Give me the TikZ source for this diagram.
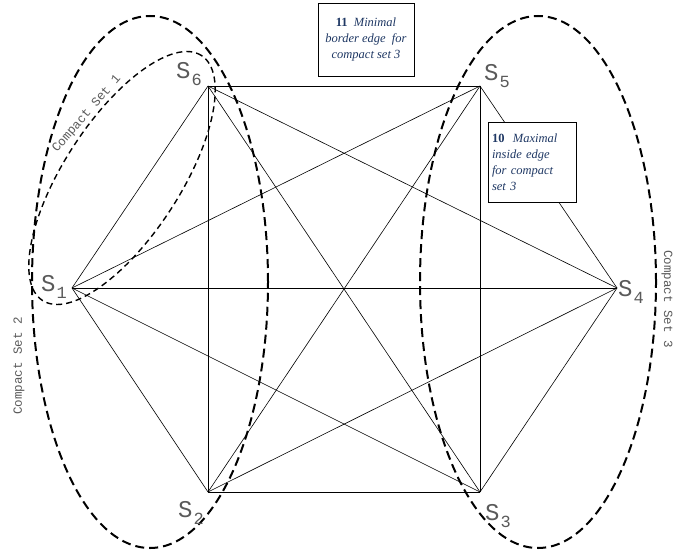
\documentclass[tikz,border=0pt]{standalone}
\usepackage{fontspec}
\setmainfont{Liberation Serif}
\newfontfamily\labfont{Liberation Mono}
\definecolor{navy}{HTML}{1F3864}
\definecolor{labgray}{HTML}{5A5A5A}
\newcommand\vlab[1]{{\fontsize{24}{24}\selectfont S}\kern1pt\raisebox{-7pt}{\fontsize{17}{17}\selectfont #1}}
\begin{document}
\begin{tikzpicture}[x=1pt,y=-1pt,
  edge/.style={draw=black,line width=0.6pt},
  bigset/.style={draw=black,line width=2pt,dash pattern=on 9pt off 5pt},
  smallset/.style={draw=black,line width=1.4pt,dash pattern=on 6pt off 4pt},
  vlabel/.style={inner sep=0pt,text=labgray,font=\labfont,anchor=base west},
  setlabel/.style={inner sep=0pt,text=labgray,font=\labfont\fontsize{12.5}{12.5}\selectfont},
  notebox/.style={draw=black,line width=0.6pt,fill=white,text=navy,inner sep=0pt,font=\fontsize{12.5}{16}\selectfont}
]
\useasboundingbox (0,0) rectangle (696,554);
\fill[white] (0,0) rectangle (696,554);
% vertices
\coordinate (s6) at (208,86);
\coordinate (s5) at (480,86);
\coordinate (s1) at (72,288);
\coordinate (s4) at (617,288);
\coordinate (s2) at (208,492);
\coordinate (s3) at (480,492);
% complete graph
\foreach \a/\b in {s1/s2,s1/s3,s1/s4,s1/s5,s1/s6,s2/s3,s2/s4,s2/s5,s2/s6,s3/s4,s3/s5,s3/s6,s4/s5,s4/s6,s5/s6}
  \draw[edge] (\a) -- (\b);
% compact sets
\draw[bigset] (150,282) ellipse [x radius=118pt, y radius=266pt];
\draw[bigset] (538,282) ellipse [x radius=118pt, y radius=266pt];
\draw[smallset, rotate around={57:(122,178)}] (122,178) ellipse [x radius=146pt, y radius=58pt];
% vertex labels
\node[vlabel] (l6) at (176,78) {\vlab{6}};
\node[vlabel] (l5) at (484,80) {\vlab{5}};
\node[vlabel] (l1) at (41,291) {\vlab{1}};
\node[vlabel] (l4) at (618,296) {\vlab{4}};
\node[vlabel] (l2) at (178,517) {\vlab{2}};
\node[vlabel] (l3) at (485,520) {\vlab{3}};
% set labels
\node[setlabel,rotate=49] (c1) at (87,114) {Compact Set 1};
\node[setlabel,rotate=90] (c2) at (19,366) {Compact Set 2};
\node[setlabel,rotate=-90] (c3) at (667,299) {Compact Set 3};
% note boxes
\node[notebox,minimum width=96pt,minimum height=73pt,align=center] (n11) at (366,39.5)
  {\textbf{11}\ \ \textit{Minimal}\\ \textit{border edge\ \ for}\\ \textit{compact set 3}};
\node[notebox,minimum width=88pt,minimum height=80pt,align=left,text width=80pt] (n10) at (532,162)
  {\textbf{10}\ \ \textit{Maximal}\\ \textit{inside edge}\\ \textit{for compact}\\ \textit{set 3}};
\end{tikzpicture}
\end{document}
